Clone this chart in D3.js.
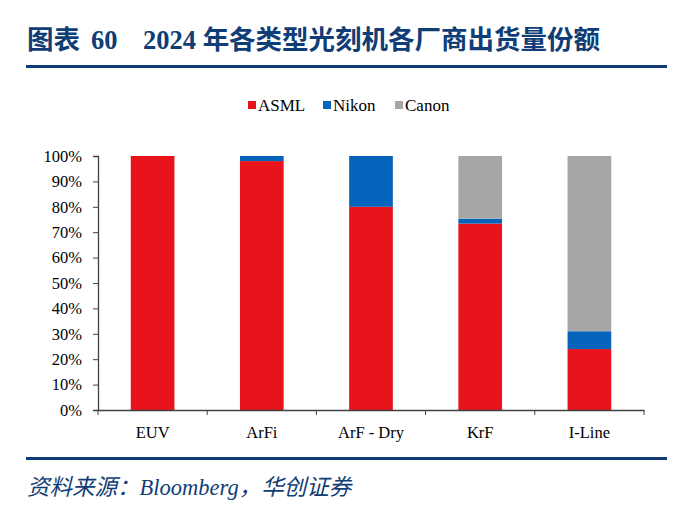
<!DOCTYPE html>
<html lang="zh">
<head>
<meta charset="UTF-8">
<title>2024年各类型光刻机各厂商出货量份额</title>
<script src="https://d3js.org/d3.v7.min.js"></script>
<style>
    body { margin: 0; background: #fff; }
    svg { display: block; }
    .serif { font-family: 'Liberation Serif', 'DejaVu Serif', serif; }
    .cjk { font-family: 'Liberation Serif', 'DejaVu Serif', 'Noto Sans CJK SC', serif; }
</style>
</head>
<body>
<div id="chart"></div>
<script>
    // data (share of shipments, %)
    var categories = ['EUV', 'ArFi', 'ArF - Dry', 'KrF', 'I-Line'];
    var seriesNames = ['ASML', 'Nikon', 'Canon'];
    var asml  = [100, 98, 80, 73.4, 24];
    var nikon = [0, 2, 20, 1.9, 7];
    var canon = [0, 0, 0, 24.7, 69];
    var yTicks = [0, 10, 20, 30, 40, 50, 60, 70, 80, 90, 100];

    var colors = {ASML: '#E8141C', Nikon: '#0563BB', Canon: '#A6A6A6'};
    var navy = '#103D75';

    var w = 696, h = 507;
    var m = {top: 156, left: 98, bottom: 97, right: 52};

    var svg = d3.select('#chart').append('svg')
        .attr('width', w)
        .attr('height', h);

    // title
    var title = svg.append('text')
        .attr('class', 'cjk')
        .attr('y', 49)
        .attr('font-weight', 'bold')
        .attr('font-size', '26.5px')
        .attr('fill', navy);
    title.append('tspan').attr('x', 27).text('图表');
    title.append('tspan').attr('x', 91).text('60');
    title.append('tspan').attr('x', 143).text('2024 年各类型光刻机各厂商出货量份额');

    svg.append('rect')
        .attr('x', 26).attr('y', 65)
        .attr('width', 641).attr('height', 3)
        .attr('fill', navy);

    svg.append('rect')
        .attr('x', 26).attr('y', 457)
        .attr('width', 641).attr('height', 3)
        .attr('fill', navy);

    // source
    svg.append('text')
        .attr('class', 'cjk')
        .attr('x', 27)
        .attr('y', 495)
        .attr('font-style', 'italic')
        .attr('font-size', '22.5px')
        .attr('fill', navy)
        .text('资料来源：Bloomberg，华创证券');

    var table = categories.map(function(c, i) {
        return {category: c, ASML: asml[i], Nikon: nikon[i], Canon: canon[i]};
    });
    var stacked = d3.stack().keys(seriesNames)(table);

    var x = d3.scaleBand()
        .domain(categories)
        .range([m.left, w - m.right])
        .padding(0);

    var y = d3.scaleLinear()
        .domain([0, 100])
        .range([h - m.bottom, m.top]);

    var barW = x.bandwidth() * 0.4;

    svg.append('g')
        .selectAll('g')
        .data(stacked)
        .enter().append('g')
        .attr('fill', function(d) { return colors[d.key]; })
        .selectAll('rect')
        .data(function(d) { return d; })
        .enter().append('rect')
        .attr('x', function(d) { return x(d.data.category) + (x.bandwidth() - barW) / 2; })
        .attr('y', function(d) { return y(d[1]); })
        .attr('width', barW)
        .attr('height', function(d) { return y(d[0]) - y(d[1]); });

    // y axis
    var yAxis = svg.append('g')
        .attr('transform', 'translate(' + m.left + ',0)')
        .call(d3.axisLeft(y).tickValues(yTicks).tickSize(5).tickPadding(11)
            .tickFormat(function(d) { return d + '%'; }));
    yAxis.attr('font-family', null).attr('font-size', null);
    yAxis.select('.domain').attr('stroke', '#404040').attr('stroke-width', 1.3);
    yAxis.selectAll('.tick line').attr('stroke', '#404040');
    yAxis.selectAll('text')
        .attr('class', 'serif')
        .attr('font-size', '16.5px')
        .attr('fill', '#000');

    // x axis
    var xAxis = svg.append('g')
        .attr('transform', 'translate(0,' + (h - m.bottom) + ')')
        .call(d3.axisBottom(x).tickSize(0).tickPadding(16));
    xAxis.attr('font-family', null).attr('font-size', null);
    xAxis.select('.domain').attr('stroke', '#404040').attr('stroke-width', 1.3);
    xAxis.selectAll('text')
        .attr('class', 'serif')
        .attr('font-size', '16.5px')
        .attr('fill', '#000');

    // tick marks at band boundaries
    var bounds = categories.map(function(c) { return x(c); }).concat([w - m.right]);
    xAxis.selectAll('line.sep')
        .data(bounds)
        .enter().append('line')
        .attr('class', 'sep')
        .attr('x1', function(d) { return d; })
        .attr('x2', function(d) { return d; })
        .attr('y1', 0)
        .attr('y2', 5)
        .attr('stroke', '#404040');

    // legend
    var legendX = [248, 323, 395];
    var legend = svg.append('g');
    seriesNames.forEach(function(s, i) {
        legend.append('rect')
            .attr('x', legendX[i])
            .attr('y', 101)
            .attr('width', 8)
            .attr('height', 8)
            .attr('fill', colors[s]);
        legend.append('text')
            .attr('class', 'serif')
            .attr('x', legendX[i] + 10)
            .attr('y', 111)
            .attr('font-size', '17px')
            .attr('fill', '#000')
            .text(s);
    });
</script>
</body>
</html>
